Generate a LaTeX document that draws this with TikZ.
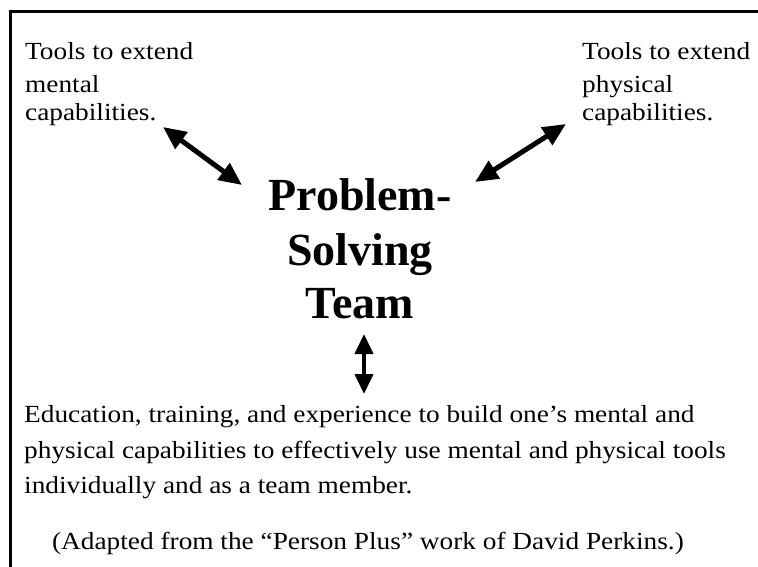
\documentclass[tikz,border=0pt]{standalone}
\usepackage{fontspec}
\usepackage{graphicx}
\setmainfont{Liberation Serif}
\usetikzlibrary{arrows.meta}
\newcommand{\wtxt}[1]{\scalebox{1.11}[1]{#1}}
\begin{document}
\begin{tikzpicture}[x=1pt,y=-1pt,
  body/.style={font=\fontsize{24.6}{32}\selectfont, inner sep=0pt, anchor=base west},
  bodyc/.style={font=\fontsize{24.6}{32}\selectfont, inner sep=0pt, anchor=base},
  ttl/.style={font=\fontsize{46}{54}\selectfont\bfseries, inner sep=0pt, anchor=base},
  dbl/.style={line width=5pt, {Triangle[length=23pt,width=20pt]}-{Triangle[length=23pt,width=20pt]}},
  dblv/.style={line width=4pt, {Triangle[length=20pt,width=18pt]}-{Triangle[length=20pt,width=18pt]}},
  frame/.style={line width=3pt}
]
\useasboundingbox (0,0) rectangle (758,567);
\fill[white] (0,0) rectangle (758,567);
\draw[frame] (10.5,567) -- (10.5,12) -- (758,12);

% top left text
\node[body] (tl1) at (25,60) {\wtxt{Tools to extend}};
\node[body] (tl2) at (25,93) {\wtxt{mental}};
\node[body] (tl3) at (25,121) {\wtxt{capabilities.}};

% top right text
\node[body] (tr1) at (582,60) {\wtxt{Tools to extend}};
\node[body] (tr2) at (582,93) {\wtxt{physical}};
\node[body] (tr3) at (582,121) {\wtxt{capabilities.}};

% title
\node[ttl] (t1) at (360,210) {Problem-};
\node[ttl] (t2) at (360,265) {Solving};
\node[ttl] (t3) at (360,318) {Team};

% bottom text
\node[body] (b1) at (24,422) {\wtxt{Education, training, and experience to build one’s mental and}};
\node[body] (b2) at (24,458) {\wtxt{physical capabilities to effectively use mental and physical tools}};
\node[body] (b3) at (24,493) {\wtxt{individually and as a team member.}};
\node[bodyc] (b4) at (368,549) {\wtxt{(Adapted from the “Person Plus” work of David Perkins.)}};

% arrow ends
\coordinate (la) at (163,127);
\coordinate (lb) at (242,185);
\coordinate (ra) at (566,124);
\coordinate (rb) at (475,182);
\coordinate (va) at (364,334);
\coordinate (vb) at (364,394);

\draw[dbl] (la) -- (lb);
\draw[dbl] (ra) -- (rb);
\draw[dblv] (va) -- (vb);
\end{tikzpicture}
\end{document}
